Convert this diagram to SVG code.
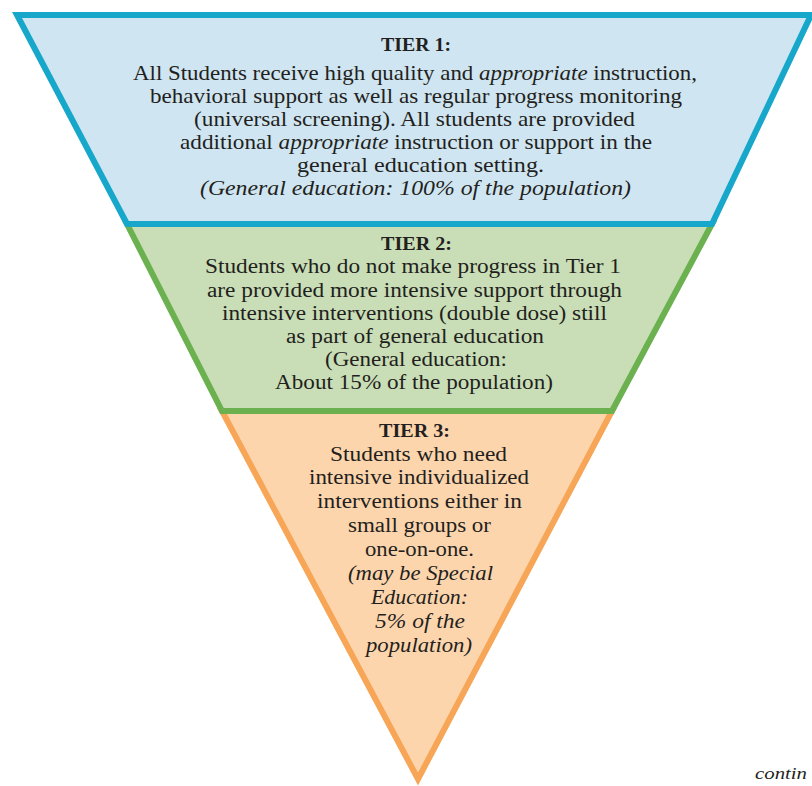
<svg xmlns="http://www.w3.org/2000/svg" width="812" height="786" viewBox="0 0 812 786">
<style>
.t{font-family:"Liberation Serif","Times New Roman",serif;fill:#231f20;}
.b{font-weight:bold;font-size:19px;}
.r1{font-size:22px;}
.r2{font-size:20px;}
.r3{font-size:20px;}
.i{font-style:italic;}
.s1{fill:#cfe5f1;stroke:#16a7cb;stroke-width:6;stroke-linejoin:miter;}
.s2{fill:#c9deb6;stroke:#6cb14f;stroke-width:6;stroke-linejoin:miter;}
.s3{fill:#fdd5ad;stroke:#f6a656;stroke-width:6;stroke-linejoin:miter;}
</style>
<rect width="812" height="786" fill="#ffffff"/>
<g id="tier3">
<polygon class="s3" points="222,411 612,411 418,779"/>
<text class="t b" x="379" y="437" textLength="71" lengthAdjust="spacingAndGlyphs">TIER 3:</text>
<text class="t r3" x="330" y="461" textLength="177" lengthAdjust="spacingAndGlyphs">Students who need</text>
<text class="t r3" x="309" y="484" textLength="220" lengthAdjust="spacingAndGlyphs">intensive individualized</text>
<text class="t r3" x="317" y="508" textLength="205" lengthAdjust="spacingAndGlyphs">interventions either in</text>
<text class="t r3" x="348" y="532" textLength="143" lengthAdjust="spacingAndGlyphs">small groups or</text>
<text class="t r3" x="365" y="556" textLength="109" lengthAdjust="spacingAndGlyphs">one-on-one.</text>
<text class="t r3 i" x="348" y="580" textLength="145" lengthAdjust="spacingAndGlyphs">(may be Special</text>
<text class="t r3 i" x="371" y="604" textLength="97" lengthAdjust="spacingAndGlyphs">Education:</text>
<text class="t r3 i" x="375" y="628" textLength="90" lengthAdjust="spacingAndGlyphs">5% of the</text>
<text class="t r3 i" x="366" y="652" textLength="106" lengthAdjust="spacingAndGlyphs">population)</text>
</g>
<g id="tier2">
<polygon class="s2" points="127,224 712,224 612,411 222,411"/>
<text class="t b" x="381" y="250" textLength="71" lengthAdjust="spacingAndGlyphs">TIER 2:</text>
<text class="t r2" x="205" y="273" textLength="416" lengthAdjust="spacingAndGlyphs">Students who do not make progress in Tier 1</text>
<text class="t r2" x="207" y="297" textLength="415" lengthAdjust="spacingAndGlyphs">are provided more intensive support through</text>
<text class="t r2" x="222" y="320" textLength="385" lengthAdjust="spacingAndGlyphs">intensive interventions (double dose) still</text>
<text class="t r2" x="286" y="343" textLength="258" lengthAdjust="spacingAndGlyphs">as part of general education</text>
<text class="t r2" x="325" y="366" textLength="182" lengthAdjust="spacingAndGlyphs">(General education:</text>
<text class="t r2" x="275" y="389" textLength="278" lengthAdjust="spacingAndGlyphs">About 15% of the population)</text>
</g>
<g id="tier1">
<polygon class="s1" points="17,15 811,15 712,224 127,224"/>
<text class="t b" x="381" y="51" textLength="70" lengthAdjust="spacingAndGlyphs">TIER 1:</text>
<text class="t r1" x="133" y="80" textLength="564" lengthAdjust="spacingAndGlyphs">All Students receive high quality and <tspan class="i">appropriate</tspan> instruction,</text>
<text class="t r1" x="150" y="103" textLength="532" lengthAdjust="spacingAndGlyphs">behavioral support as well as regular progress monitoring</text>
<text class="t r1" x="194" y="126" textLength="441" lengthAdjust="spacingAndGlyphs">(universal screening). All students are provided</text>
<text class="t r1" x="180" y="149" textLength="472" lengthAdjust="spacingAndGlyphs">additional <tspan class="i">appropriate</tspan> instruction or support in the</text>
<text class="t r1" x="297" y="172" textLength="247" lengthAdjust="spacingAndGlyphs">general education setting.</text>
<text class="t r1 i" x="200" y="195" textLength="431" lengthAdjust="spacingAndGlyphs">(General education: 100% of the population)</text>
</g>
<g id="connectors"/>
<text class="t i" x="755" y="779" font-size="17" textLength="52" lengthAdjust="spacingAndGlyphs">contin</text>
</svg>
